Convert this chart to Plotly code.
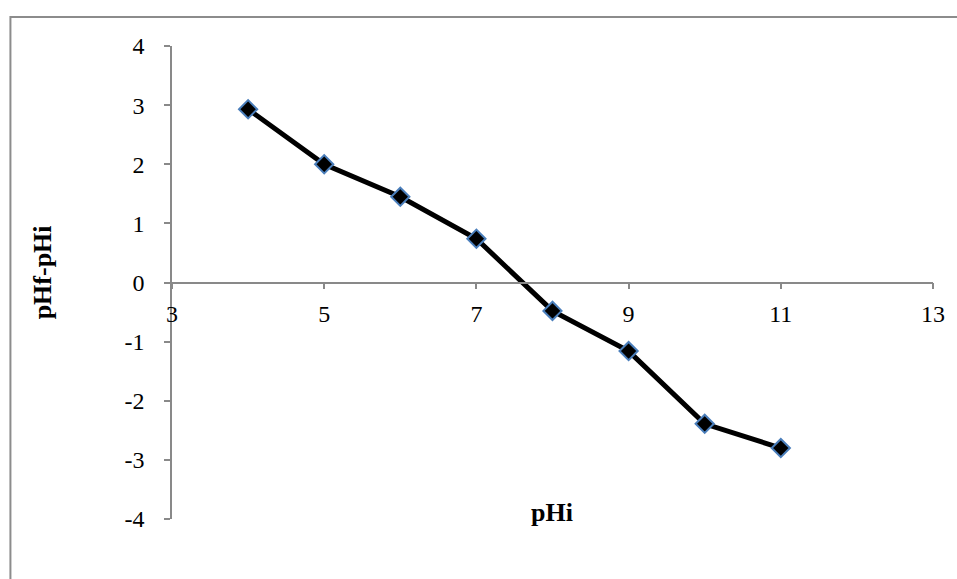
import plotly.graph_objects as go

# Initial pH vs. change in pH
ph_initial = [4, 5, 6, 7, 8, 9, 10, 11]
ph_change = [2.93, 2.00, 1.45, 0.74, -0.48, -1.16, -2.39, -2.80]

x_ticks = [3, 5, 7, 9, 11, 13]
y_ticks = [4, 3, 2, 1, 0, -1, -2, -3, -4]

FONT = "Liberation Serif, Times New Roman, serif"
AXIS_GRAY = "#898989"

fig = go.Figure(
    go.Scatter(
        x=ph_initial,
        y=ph_change,
        mode="lines+markers",
        line=dict(color="black", width=5),
        marker=dict(symbol="diamond", size=14, color="black",
                    line=dict(color="#4a7ebb", width=2)),
        showlegend=False,
    )
)

W, H = 957, 579
L, R, T, B = 172, 22, 46, 60
pw, ph = W - L - R, H - T - B


def px_to_paper(px, py):
    return (px - L) / pw, (H - B - py) / ph


fig.update_layout(
    width=W,
    height=H,
    margin=dict(l=L, r=R, t=T, b=B),
    paper_bgcolor="white",
    plot_bgcolor="white",
    font=dict(family=FONT, size=24, color="black"),
    xaxis=dict(
        range=[3, 13],
        tickvals=x_ticks,
        ticktext=[str(v) for v in x_ticks],
        showgrid=False,
        zeroline=False,
        showline=True,
        linecolor=AXIS_GRAY,
        linewidth=1.5,
        ticks="outside",
        ticklen=6,
        tickwidth=1.5,
        tickcolor=AXIS_GRAY,
        anchor="free",
        position=0.5,
        ticklabelstandoff=4,
    ),
    yaxis=dict(
        range=[-4, 4],
        tickvals=y_ticks,
        ticktext=[str(v) for v in y_ticks],
        showgrid=False,
        zeroline=False,
        showline=True,
        linecolor=AXIS_GRAY,
        linewidth=1.5,
        ticks="outside",
        ticklen=6,
        tickwidth=1.5,
        tickcolor=AXIS_GRAY,
        ticklabelstandoff=15,
    ),
)

# Chart-area frame (runs off the right and bottom edges)
x0, y0 = px_to_paper(10, 17)
x1, y1 = px_to_paper(W + 20, H + 20)
fig.add_shape(type="rect", xref="paper", yref="paper",
              x0=x0, y0=y1, x1=x1, y1=y0,
              line=dict(color="#8c8c8c", width=2), layer="below")

# Axis titles
tx, ty = px_to_paper(553, 512)
fig.add_annotation(x=tx, y=ty, xref="paper", yref="paper", text="<b>pHi</b>",
                   showarrow=False, font=dict(family=FONT, size=26),
                   xanchor="center", yanchor="middle")
tx, ty = px_to_paper(42, 272)
fig.add_annotation(x=tx, y=ty, xref="paper", yref="paper", text="<b>pHf-pHi</b>",
                   showarrow=False, textangle=-90, font=dict(family=FONT, size=26),
                   xanchor="center", yanchor="middle")

fig.write_html("out.html")
